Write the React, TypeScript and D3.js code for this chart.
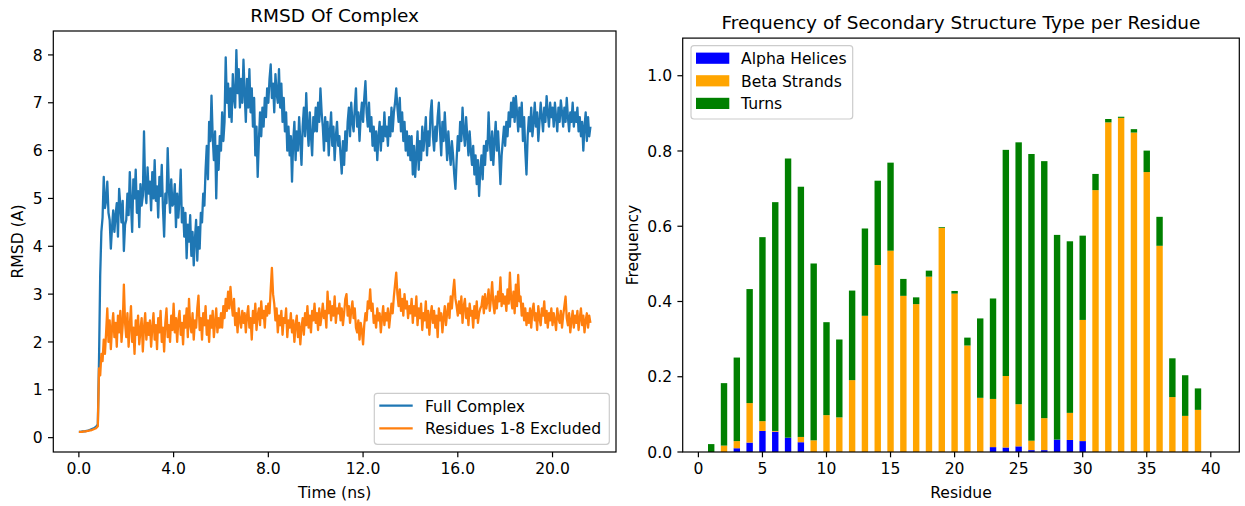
import React from 'react';
import * as d3 from 'd3';

// RMSD sampled every 0.05 ns, 0.0 .. 21.6 ns
const timeStep = 0.05;

const fullComplex = [
  0.12, 0.12, 0.12, 0.13, 0.13, 0.13, 0.14, 0.14, 0.15, 0.16, 0.17, 0.18, 0.19, 0.2, 0.22, 0.24, 0.28, 1.6, 3.4, 4.3,
  4.6, 5.45, 4.8, 4.95, 5.35, 4.7, 4.55, 3.95, 4.4, 4.75, 4.3, 4.65, 4.9, 4.2, 5.2, 4.85, 4.5, 4.95, 3.9, 4.45,
  4.55, 5.1, 4.65, 5.55, 4.9, 4.3, 5.4, 5.0, 5.6, 4.7, 5.15, 4.4, 5.3, 4.85, 5.05, 6.4, 5.2, 4.9, 5.65, 5.1,
  5.35, 4.75, 5.55, 5.0, 5.8, 4.95, 5.25, 4.6, 5.45, 5.05, 5.7, 4.8, 4.2, 5.1, 4.9, 6.05, 5.2, 4.7, 5.4, 4.85,
  4.9, 5.3, 4.4, 5.1, 4.6, 5.0, 5.6, 4.5, 4.8, 4.2, 4.7, 3.75, 4.45, 4.1, 4.65, 3.8, 4.3, 3.6, 4.15, 4.55,
  3.7, 4.4, 3.95, 4.7, 4.5, 5.1, 4.85, 5.6, 6.1, 5.4, 6.6, 6.2, 7.15, 6.3, 5.8, 6.4, 5.0, 6.1, 5.6, 6.3,
  6.0, 6.8, 6.2, 6.6, 7.95, 7.0, 7.4, 6.7, 7.3, 6.6, 7.6, 7.1, 6.9, 8.1, 7.2, 7.7, 6.9, 7.5, 7.0, 7.9,
  7.2, 6.6, 7.5, 6.9, 7.7, 6.8, 7.3, 6.5, 7.1, 5.9, 6.5, 5.45, 6.2, 6.8, 6.3, 6.9, 6.5, 7.1, 6.7, 7.3,
  7.0, 7.5, 7.8, 7.1, 7.4, 6.8, 7.6, 7.2, 7.0, 7.7, 6.9, 7.4, 6.6, 7.1, 6.4, 6.8, 6.0, 6.5, 5.9, 6.3,
  5.35, 6.2, 6.6, 5.8, 6.4, 6.0, 6.7, 6.2, 5.7, 6.5, 6.9, 6.3, 7.2, 6.5, 6.1, 6.8, 6.3, 5.9, 6.7, 6.4,
  6.9, 6.4, 7.0, 6.6, 7.3, 6.8, 6.5, 6.0, 6.7, 6.2, 6.6, 5.9, 6.4, 6.8, 6.1, 6.5, 5.8, 6.3, 6.6, 6.1,
  6.3, 5.9, 5.52, 6.2, 5.7, 6.4, 6.0, 6.6, 6.9, 6.3, 7.0, 6.6, 6.4, 6.9, 7.3, 6.5, 6.8, 6.2, 6.7, 7.0,
  6.6, 7.1, 7.45, 6.8, 6.5, 7.0, 6.4, 6.7, 6.1, 6.5, 6.0, 6.4, 5.8, 6.3, 6.6, 6.0, 6.5, 6.2, 6.8, 6.3,
  6.5, 6.1, 6.7, 6.3, 6.9, 6.4, 6.8, 7.0, 7.3, 6.9, 6.6, 7.1, 6.4, 6.8, 6.2, 6.6, 6.0, 6.4, 5.9, 6.3,
  5.8, 6.3, 5.5, 6.1, 5.45, 5.9, 6.4, 5.6, 6.2, 5.8, 6.5, 6.0, 6.3, 6.7, 5.9, 6.4, 6.1, 6.8, 7.05, 6.3,
  6.0, 6.5, 6.2, 6.7, 7.0, 6.4, 5.9, 6.6, 6.2, 6.8, 6.3, 5.8, 6.4, 6.0, 5.7, 6.2, 5.9, 5.5, 5.2, 5.8,
  6.3, 6.0, 6.6, 6.2, 6.9, 6.4, 6.1, 6.7, 6.3, 5.9, 6.4, 6.0, 5.7, 6.1, 5.5, 5.9, 5.3, 5.8, 5.05, 5.6,
  5.9, 5.4, 6.1, 5.7, 6.2, 6.0, 6.8, 6.2, 5.8, 6.4, 5.7, 6.2, 6.6, 6.0, 6.4, 5.9, 5.3, 5.9, 6.2, 6.5,
  6.1, 6.6, 6.3, 6.8, 6.5, 7.0, 6.7, 7.1, 6.6, 7.14, 6.8, 6.4, 6.9, 6.5, 7.0, 6.2, 6.7, 6.0, 5.5, 6.3,
  6.7, 6.4, 6.9, 6.3, 6.6, 7.0, 6.5, 6.8, 6.2, 6.6, 7.0, 6.7, 6.4, 6.9, 6.6, 7.14, 6.8, 6.5, 7.0, 6.7,
  6.9, 6.5, 7.0, 6.7, 6.4, 6.9, 6.6, 7.05, 6.8, 6.5, 6.9, 6.6, 7.1, 6.7, 6.4, 6.8, 6.6, 7.0, 6.5, 6.8,
  6.6, 6.9, 6.4, 6.7, 6.3, 6.6, 6.0, 6.5, 6.8, 6.2, 6.7, 6.3, 6.5,
];

const residuesExcluded = [
  0.12, 0.12, 0.12, 0.12, 0.13, 0.13, 0.13, 0.14, 0.14, 0.15, 0.15, 0.16, 0.17, 0.18, 0.19, 0.21, 0.24, 1.45, 1.3, 1.75,
  1.6, 2.05, 1.75, 2.2, 2.7, 2.0, 2.45, 1.85, 2.3, 2.6, 2.1, 2.4, 1.9, 2.55, 2.2, 2.65, 2.0, 2.35, 3.2, 2.4,
  2.1, 2.6, 1.9, 2.35, 2.75, 2.0, 2.3, 1.75, 2.45, 2.15, 2.55, 1.95, 2.25, 2.5, 1.8, 2.3, 2.6, 2.05, 2.4, 2.15,
  2.45, 1.9, 2.3, 2.6, 2.05, 2.35, 1.85, 2.5, 2.2, 2.65, 2.0, 2.3, 1.8, 2.4, 2.7, 2.1, 2.35, 2.0, 2.55, 2.25,
  2.8, 2.2, 2.5, 2.0, 2.45, 2.65, 2.15, 2.4, 1.95, 2.55, 2.3, 2.7, 2.1, 2.9, 2.35, 2.2, 2.6, 2.05, 2.45, 2.3,
  2.7, 2.97, 2.25, 2.5, 2.05, 2.6, 2.35, 2.75, 2.15, 2.45, 2.0, 2.55, 2.3, 2.65, 2.1, 2.4, 2.7, 2.2, 2.5, 2.3,
  2.6, 2.3, 2.75, 2.5, 2.9, 2.65, 3.05, 2.7, 3.15, 2.8, 2.55, 2.9, 2.35, 2.6, 2.2, 2.7, 2.45, 2.3, 2.65, 2.4,
  2.6, 2.2, 2.55, 2.75, 2.3, 2.5, 2.05, 2.65, 2.4, 2.8, 2.25, 2.55, 2.7, 2.35, 2.85, 2.5, 2.65, 2.3, 2.75, 2.55,
  2.8, 2.6, 3.1, 3.55, 3.0, 2.8, 2.45, 2.7, 2.2, 2.55, 2.35, 2.65, 2.15, 2.5, 2.4, 2.7, 2.1, 2.45, 2.3, 2.6,
  2.2, 2.45, 2.0, 2.35, 2.55, 2.1, 2.4, 1.95, 2.3, 2.5, 2.15, 2.6, 2.35, 2.75, 2.3, 2.55, 2.2, 2.65, 2.45, 2.8,
  2.4, 2.6, 2.25, 2.7, 2.35, 2.55, 2.8, 2.5, 2.65, 2.3, 3.05, 2.6, 2.85, 2.45, 2.75, 2.55, 2.95, 2.4, 2.7, 2.6,
  2.8, 2.45, 2.7, 2.35, 2.6, 2.9, 3.0, 2.55, 2.75, 2.4, 2.65, 2.85, 2.5, 2.7, 2.3, 2.2, 2.45, 2.05, 2.4, 2.25,
  1.95, 2.35, 2.6, 2.45, 2.85, 2.7, 3.1, 2.65, 2.8, 2.4, 2.55, 2.3, 2.7, 2.45, 2.6, 2.2, 2.5, 2.75, 2.35, 2.6,
  2.45, 2.7, 2.3, 2.55, 2.8, 2.6, 2.95, 3.2, 3.45, 3.0, 2.75, 3.1, 2.65, 2.9, 2.55, 3.0, 2.7, 2.85, 2.5, 2.75,
  2.6, 2.9, 2.4, 2.75, 2.55, 2.95, 2.35, 2.7, 2.5, 2.8, 2.25, 2.6, 2.45, 2.85, 2.3, 2.65, 2.15, 2.55, 2.75, 2.4,
  2.65, 2.3, 2.55, 2.1, 2.7, 2.45, 2.6, 2.2, 2.5, 2.75, 2.35, 2.6, 2.8, 2.5, 2.95, 2.7, 3.05, 3.3, 2.9, 2.75,
  2.55, 2.85, 2.6, 2.95, 2.4, 2.75, 2.9, 2.5, 2.7, 2.35, 2.8, 2.55, 2.65, 2.3, 2.75, 2.5, 2.85, 2.4, 2.6, 2.7,
  2.75, 2.95, 2.6, 3.0, 2.7, 2.85, 3.1, 2.65, 2.9, 3.25, 2.8, 2.6, 2.95, 2.7, 3.05, 2.85, 3.35, 2.75, 3.0, 2.8,
  2.95, 2.65, 3.1, 2.8, 3.45, 2.9, 2.7, 3.05, 2.6, 3.2, 2.75, 3.4, 2.85, 2.95, 2.55, 2.8, 2.45, 2.7, 2.35, 2.6,
  2.4, 2.7, 2.3, 2.65, 2.8, 2.45, 2.6, 2.25, 2.75, 2.5, 2.35, 2.7, 2.55, 2.85, 2.4, 2.65, 2.3, 2.6, 2.45, 2.7,
  2.35, 2.6, 2.45, 2.25, 2.7, 2.5, 2.4, 2.65, 2.3, 2.55, 2.75, 2.95, 2.5, 2.35, 2.6, 2.2, 2.45, 2.65, 2.3, 2.55,
  2.4, 2.65, 2.25, 2.5, 2.7, 2.35, 2.55, 2.2, 2.45, 2.6, 2.3, 2.55, 2.4,
];

const timeTicks = [0, 4, 8, 12, 16, 20];
const rmsdTicks = [0, 1, 2, 3, 4, 5, 6, 7, 8];

// secondary structure frequency, residues 1..40
const residues = [
  1, 2, 3, 4, 5, 6, 7, 8, 9, 10, 11, 12, 13, 14, 15, 16, 17, 18, 19, 20,
  21, 22, 23, 24, 25, 26, 27, 28, 29, 30, 31, 32, 33, 34, 35, 36, 37, 38, 39, 40,
];
const alphaHelices = [
  0, 0, 0.01, 0.025, 0.056, 0.054, 0.038, 0.026, 0, 0, 0, 0, 0, 0, 0, 0, 0, 0, 0, 0,
  0, 0, 0.013, 0.012, 0.015, 0.005, 0.005, 0.033, 0.032, 0.029, 0, 0, 0, 0, 0, 0, 0, 0, 0, 0,
];
const betaStrands = [
  0, 0.017, 0.019, 0.105, 0.026, 0.002, 0, 0.014, 0.031, 0.098, 0.092, 0.191, 0.362, 0.497, 0.535, 0.415, 0.393, 0.466, 0.596, 0.421,
  0.283, 0.144, 0.128, 0.19, 0.112, 0.025, 0.085, 0, 0.072, 0.322, 0.696, 0.876, 0.888, 0.849, 0.744, 0.548, 0.146, 0.096, 0.112, 0,
];
const turns = [
  0.021, 0.166, 0.222, 0.303, 0.489, 0.608, 0.742, 0.665, 0.47, 0.247, 0.207, 0.238, 0.232, 0.224, 0.234, 0.045, 0.018, 0.016, 0.002, 0.007,
  0.021, 0.211, 0.267, 0.601, 0.696, 0.762, 0.683, 0.544, 0.456, 0.224, 0.043, 0.009, 0.003, 0.009, 0.057, 0.077, 0.103, 0.108, 0.057, 0,
];
const residueTicks = [0, 5, 10, 15, 20, 25, 30, 35, 40];
const freqTicks = [0, 0.2, 0.4, 0.6, 0.8, 1.0];

const FONT = 'DejaVu Sans, sans-serif';
const FS = 15.6;
const TITLE_FS = 18.5;
const TICK = 5.3;
const PAD = 5.3;

type Box = { x0: number; x1: number; y0: number; y1: number };

const Frame = ({ b }: { b: Box }) => (
  <rect x={b.x0} y={b.y0} width={b.x1 - b.x0} height={b.y1 - b.y0} fill="none" stroke="#000" strokeWidth={1.2} />
);

const XAxis = ({ b, scale, ticks, fmt }: { b: Box; scale: d3.ScaleLinear<number, number>; ticks: number[]; fmt: (v: number) => string }) => (
  <g>
    {ticks.map((t) => (
      <g key={t}>
        <line x1={scale(t)} x2={scale(t)} y1={b.y1} y2={b.y1 + TICK} stroke="#000" strokeWidth={1.2} />
        <text x={scale(t)} y={b.y1 + TICK + PAD + 11.6} textAnchor="middle" fontSize={FS}>{fmt(t)}</text>
      </g>
    ))}
  </g>
);

const YAxis = ({ b, scale, ticks, fmt }: { b: Box; scale: d3.ScaleLinear<number, number>; ticks: number[]; fmt: (v: number) => string }) => (
  <g>
    {ticks.map((t) => (
      <g key={t}>
        <line x1={b.x0 - TICK} x2={b.x0} y1={scale(t)} y2={scale(t)} stroke="#000" strokeWidth={1.2} />
        <text x={b.x0 - TICK - PAD} y={scale(t) + 5.6} textAnchor="end" fontSize={FS}>{fmt(t)}</text>
      </g>
    ))}
  </g>
);

const LegendFrame = ({ x, y, w, h }: { x: number; y: number; w: number; h: number }) => (
  <rect x={x} y={y} width={w} height={h} rx={3} ry={3} fill="rgba(255,255,255,0.8)" stroke="#cccccc" strokeWidth={1.2} />
);

const RmsdChart = () => {
  const b: Box = { x0: 53.3, x1: 616, y0: 31, y1: 452 };
  const x = d3.scaleLinear().domain([-1.08, 22.68]).range([b.x0, b.x1]);
  const y = d3.scaleLinear().domain([-0.3, 8.5]).range([b.y1, b.y0]);
  const line = d3
    .line<number>()
    .x((_, i) => x(i * timeStep))
    .y((d) => y(d));
  const cx = (b.x0 + b.x1) / 2;
  const cy = (b.y0 + b.y1) / 2;

  return (
    <g>
      <defs>
        <clipPath id="clipL">
          <rect x={b.x0} y={b.y0} width={b.x1 - b.x0} height={b.y1 - b.y0} />
        </clipPath>
      </defs>
      <g clipPath="url(#clipL)">
        <path d={line(fullComplex) || ''} fill="none" stroke="#1f77b4" strokeWidth={2.3} strokeLinejoin="round" />
        <path d={line(residuesExcluded) || ''} fill="none" stroke="#ff7f0e" strokeWidth={2.3} strokeLinejoin="round" />
      </g>
      <Frame b={b} />
      <XAxis b={b} scale={x} ticks={timeTicks} fmt={(v) => v.toFixed(1)} />
      <YAxis b={b} scale={y} ticks={rmsdTicks} fmt={(v) => String(v)} />
      <text x={cx} y={21.8} textAnchor="middle" fontSize={TITLE_FS}>RMSD Of Complex</text>
      <text x={cx} y={498} textAnchor="middle" fontSize={FS}>Time (ns)</text>
      <text transform={`translate(23.3,${cy}) rotate(-90)`} textAnchor="middle" fontSize={FS}>RMSD (A)</text>

      <LegendFrame x={374.3} y={393.3} w={235} h={51} />
      <line x1={379.3} x2={412.7} y1={405.7} y2={405.7} stroke="#1f77b4" strokeWidth={2.3} />
      <text x={425} y={411.6} fontSize={FS}>Full Complex</text>
      <line x1={379.3} x2={412.7} y1={428.3} y2={428.3} stroke="#ff7f0e" strokeWidth={2.3} />
      <text x={425} y={434.2} fontSize={FS}>Residues 1-8 Excluded</text>
    </g>
  );
};

const StructureChart = () => {
  const b: Box = { x0: 682.7, x1: 1239.3, y0: 38.1, y1: 452 };
  const x = d3.scaleLinear().domain([-1.225, 42.225]).range([b.x0, b.x1]);
  const y = d3.scaleLinear().domain([0, 1.1]).range([b.y1, b.y0]);
  const bw = x(0.5) - x(0);
  const cx = (b.x0 + b.x1) / 2;
  const cy = (b.y0 + b.y1) / 2;

  const layers = [
    { name: 'Alpha Helices', color: '#0000ff', values: alphaHelices },
    { name: 'Beta Strands', color: '#ffa500', values: betaStrands },
    { name: 'Turns', color: '#008000', values: turns },
  ];

  const bars: { key: string; x: number; y: number; h: number; color: string }[] = [];
  residues.forEach((r, i) => {
    let base = 0;
    layers.forEach((l) => {
      const v = l.values[i];
      if (v > 0) {
        bars.push({ key: `${l.name}-${r}`, x: x(r) - bw / 2, y: y(base + v), h: y(base) - y(base + v), color: l.color });
      }
      base += v;
    });
  });

  return (
    <g>
      {bars.map((d) => (
        <rect key={d.key} x={d.x} y={d.y} width={bw} height={d.h} fill={d.color} />
      ))}
      <Frame b={b} />
      <XAxis b={b} scale={x} ticks={residueTicks} fmt={(v) => String(v)} />
      <YAxis b={b} scale={y} ticks={freqTicks} fmt={(v) => v.toFixed(1)} />
      <text x={cx} y={28.5} textAnchor="middle" fontSize={TITLE_FS}>Frequency of Secondary Structure Type per Residue</text>
      <text x={cx} y={498} textAnchor="middle" fontSize={FS}>Residue</text>
      <text transform={`translate(638,${cy}) rotate(-90)`} textAnchor="middle" fontSize={FS}>Frequency</text>

      <LegendFrame x={691} y={45.6} w={161.7} h={73.4} />
      {layers.map((l, i) => (
        <g key={l.name}>
          <rect x={696} y={52.6 + i * 22.6} width={33.3} height={11.2} fill={l.color} />
          <text x={741} y={64 + i * 22.6} fontSize={FS}>{l.name}</text>
        </g>
      ))}
    </g>
  );
};

export default function App() {
  return (
    <svg
      width={1245}
      height={506}
      style={{ position: 'absolute', left: 0, top: 0, background: '#fff' }}
      fontFamily={FONT}
      fill="#000"
    >
      <rect width={1245} height={506} fill="#fff" />
      <RmsdChart />
      <StructureChart />
    </svg>
  );
}
